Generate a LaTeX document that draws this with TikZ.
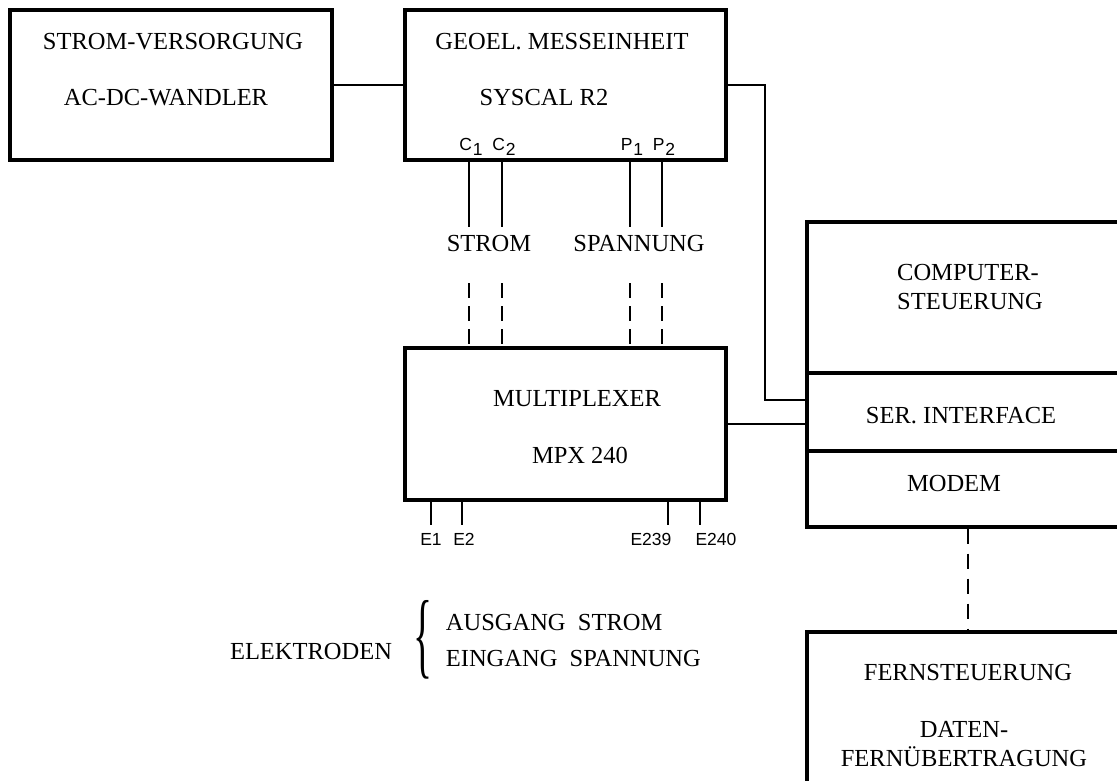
\documentclass[tikz,border=0pt]{standalone}
\usepackage{graphicx}
\usepackage{fontspec}
\setmainfont{Liberation Serif}
\newfontfamily\pinfont{Liberation Sans}
\usetikzlibrary{calc}

\begin{document}
\begin{tikzpicture}[x=1pt, y=-1pt, line width=1.8pt,
  blk/.style={draw, line width=3.2pt, inner sep=0pt},
  txt/.style={font=\fontsize{24.5}{29}\selectfont, inner sep=0pt},
  pin/.style={font=\pinfont\fontsize{17.5}{20}\selectfont, inner sep=0pt},
  wire/.style={dash pattern=on 15pt off 8pt}]

\useasboundingbox (0,0) rectangle (1117,780);
\clip (0,0) rectangle (1117,780);

% Blocks
\node[blk, minimum width=322pt, minimum height=150pt] (power) at (171,85) {};
\node[blk, minimum width=321pt, minimum height=150pt] (geo) at (565.5,85) {};
\node[blk, minimum width=321pt, minimum height=152pt] (mux) at (565.5,424) {};
\node[blk, minimum width=340pt, minimum height=151pt] (comp) at (977,297.5) {};
\node[blk, minimum width=340pt, minimum height=78pt] (ser) at (977,412) {};
\node[blk, minimum width=340pt, minimum height=76pt] (modem) at (977,489) {};
\node[blk, minimum width=340pt, minimum height=180pt] (fern) at (977,722) {};

% Texts in the blocks
\node[txt] (powerA) at (173,42) {STROM-VERSORGUNG};
\node[txt] (powerB) at (166,98) {AC-DC-WANDLER};
\node[txt] (geoA) at (562,42) {GEOEL. MESSEINHEIT};
\node[txt] (geoB) at (544,98) {SYSCAL R2};
\node[txt] (muxA) at (577,399) {MULTIPLEXER};
\node[txt] (muxB) at (580,455) {MPX 240};
\node[txt, align=left] (compA) at (970,287.5) {COMPUTER-\\STEUERUNG};
\node[txt] (serA) at (961,416) {SER. INTERFACE};
\node[txt] (modemA) at (954,483) {MODEM};
\node[txt] (fernA) at (968,672) {FERNSTEUERUNG};
\node[txt, align=center] (fernB) at (964,744) {DATEN-\\FERNÜBERTRAGUNG};

% Connections
\draw (power.east) -- (geo.west);
\draw (geo.east) -- ++(37,0) |- ([yshift=12pt]ser.west);
\draw (mux.east) -- (mux.east -| ser.west);
\draw[dash pattern=on 15pt off 10pt] (modem.south -| 968,0) -- (fern.north -| 968,0);

% Measuring lines
\foreach \px/\pn/\pi in {469/C/1, 502/C/2, 630/P/1, 662/P/2} {
  \coordinate (t\pn\pi) at (\px,227);
  \coordinate (d\pn\pi) at (\px,283);
  \draw (\px,0 |- geo.south) -- (t\pn\pi);
  \draw[wire] (d\pn\pi) -- (\px,0 |- mux.north);
  \node[pin, anchor=base] (pin\pn\pi) at (\px+2,150) {\pn\kern1pt\raisebox{-5pt}{\pi}};
}
\node[txt] (strom) at (489,244) {STROM};
\node[txt] (spann) at (639,244) {SPANNUNG};

% Electrodes
\foreach \ex/\lx/\nm in {431/431/1, 462/464/2, 668/651/239, 700/716/240} {
  \coordinate (e\nm) at (\ex,525);
  \draw (\ex,0 |- mux.south) -- (e\nm);
  \node[pin] (le\nm) at (\lx,539) {E\nm};
}

% Legend
\node[txt] (elek) at (311,651) {ELEKTRODEN};
\node[txt] (brace) at (423,640) {\resizebox{19pt}{66pt}{\{}};
\node[txt, anchor=west] (outA) at (445,622) {AUSGANG\ \ STROM};
\node[txt, anchor=west] (outB) at (445,658) {EINGANG\ \ SPANNUNG};

\end{tikzpicture}
\end{document}
